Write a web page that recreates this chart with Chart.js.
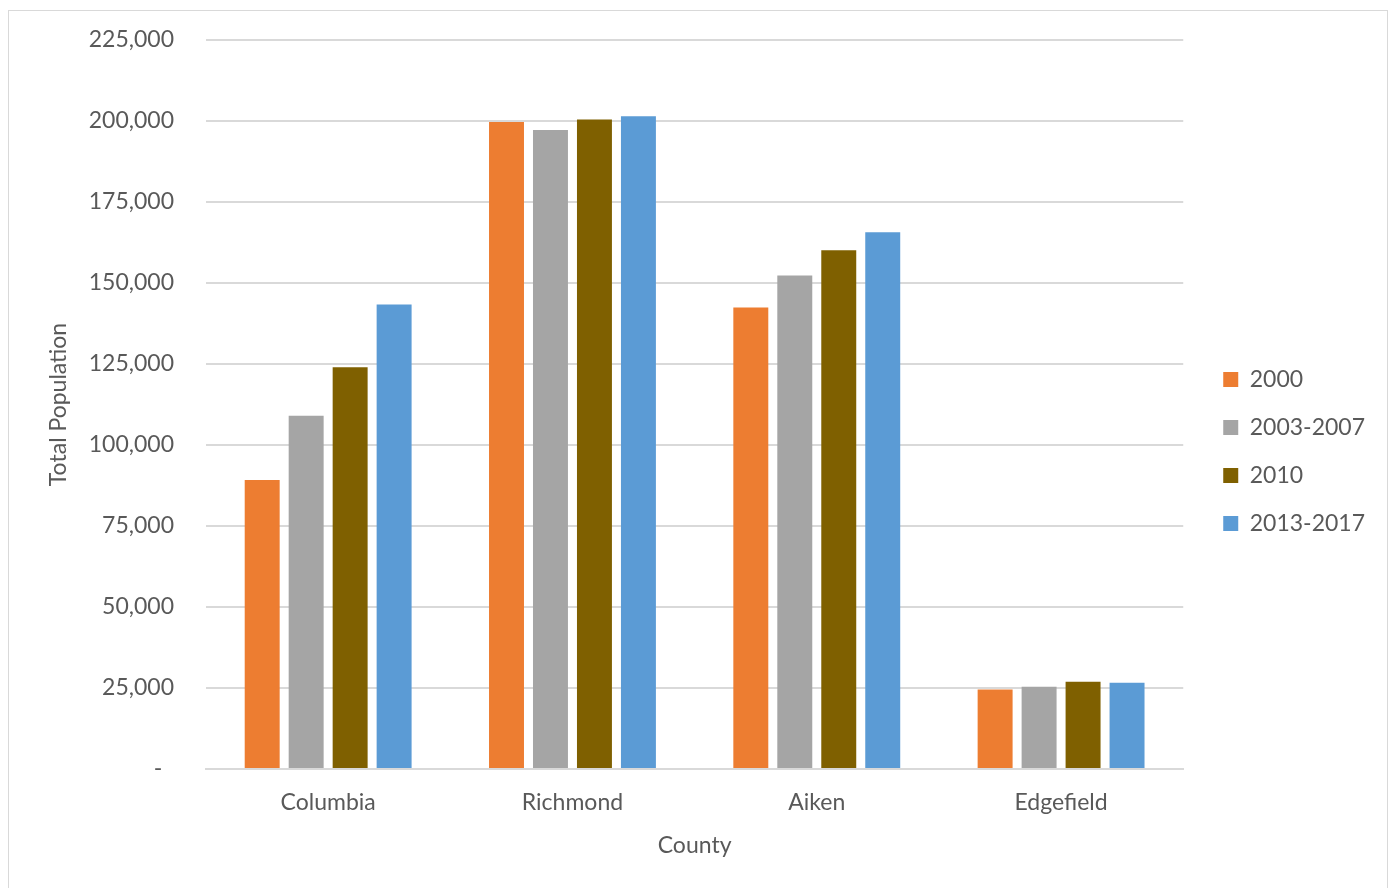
<!DOCTYPE html>
<html>
<head>
<meta charset="utf-8">
<script src="https://cdn.jsdelivr.net/npm/chart.js@4.4.1/dist/chart.umd.min.js"></script>
<style>
  html, body { margin: 0; padding: 0; background: #ffffff; }
  #wrap { position: relative; width: 1393px; height: 888px; overflow: hidden; }
  #frame { position: absolute; left: 8px; top: 10px; width: 1380px; height: 900px;
           border: 1.5px solid #d9d9d9; box-sizing: border-box; }
  #chart { position: absolute; left: 0; top: 0; }
</style>
</head>
<body>
<div id="wrap">
  <div id="frame"></div>
  <canvas id="chart" width="1393" height="888"></canvas>
</div>
<script>
// Counties on the x axis
const counties = ['Columbia', 'Richmond', 'Aiken', 'Edgefield'];

// Total population per county, one array per period
const pop2000 = [89200, 199700, 142400, 24500];
const pop2003to2007 = [109000, 197200, 152300, 25400];
const pop2010 = [124000, 200500, 160100, 26900];
const pop2013to2017 = [143400, 201500, 165700, 26600];

const seriesNames = ['2000', '2003-2007', '2010', '2013-2017'];
const seriesColors = ['#ED7D31', '#A5A5A5', '#7F6000', '#5B9BD5'];

// Value-axis ticks
const yMin = 0;
const yMax = 225000;
const yStep = 25000;

const textColor = '#595959';
const gridColor = '#d9d9d9';
const fontFamily = 'Lato, "Open Sans", "Noto Sans", sans-serif';

const seriesValues = [pop2000, pop2003to2007, pop2010, pop2013to2017];

const datasets = seriesNames.map((name, i) => ({
  label: name,
  data: seriesValues[i],
  backgroundColor: seriesColors[i],
  borderWidth: 0,
  categoryPercentage: 0.72,
  barPercentage: 0.795
}));

// Move the legend block a little further right and down from the plot
const legendNudge = {
  id: 'legendNudge',
  afterLayout(chart) {
    const lg = chart.legend;
    if (lg) {
      lg.top += 2; lg.bottom += 2;
      lg.left += 15; lg.right += 15;
    }
  }
};

new Chart(document.getElementById('chart'), {
  type: 'bar',
  data: { labels: counties, datasets },
  plugins: [legendNudge],
  options: {
    responsive: false,
    animation: false,
    layout: { padding: { top: 40, left: 45, bottom: 29, right: 33 } },
    plugins: {
      tooltip: { enabled: false },
      legend: {
        position: 'right',
        labels: {
          boxWidth: 15,
          boxHeight: 15,
          padding: 25,
          color: textColor,
          font: { family: fontFamily, size: 23 }
        }
      }
    },
    scales: {
      x: {
        grid: { display: false, drawTicks: false },
        border: { display: true, color: gridColor, width: 2 },
        ticks: {
          color: textColor,
          padding: 20,
          font: { family: fontFamily, size: 23 }
        },
        title: {
          display: true,
          text: 'County',
          color: textColor,
          padding: { top: 0, bottom: 0 },
          font: { family: fontFamily, size: 23 }
        },
        afterFit(scale) { scale.height = 90; }
      },
      y: {
        min: yMin,
        max: yMax,
        grid: { color: gridColor, lineWidth: 2, drawTicks: false },
        border: { display: false },
        ticks: {
          stepSize: yStep,
          color: textColor,
          padding: 32,
          font: { family: fontFamily, size: 23 },
          callback: (v) => v === 0 ? '-  ' : v.toLocaleString('en-US')
        },
        title: {
          display: true,
          text: 'Total Population',
          color: textColor,
          padding: { top: 0, bottom: 0 },
          font: { family: fontFamily, size: 23 }
        },
        afterFit(scale) {
          scale.width = 161;
          scale.paddingTop = 0;
          scale.paddingBottom = 0;
        }
      }
    }
  }
});
</script>
</body>
</html>
